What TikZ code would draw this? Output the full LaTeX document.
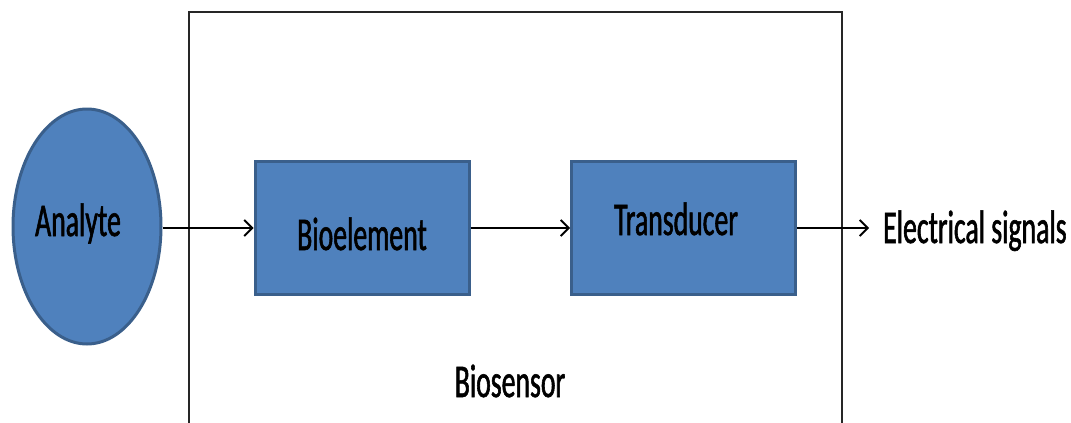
\documentclass[tikz,border=0pt]{standalone}
\usepackage{fontspec}
\setmainfont{Carlito}[FakeStretch=0.59,FakeBold=1.2]
\usepackage{tikz}
\usetikzlibrary{arrows.meta,shapes.geometric}
\definecolor{boxblue}{HTML}{4F81BD}
\definecolor{boxedge}{HTML}{3A5F8B}
\tikzset{
  blob/.style={ellipse, fill=boxblue, draw=boxedge, line width=3pt, minimum width=148pt, minimum height=235pt, inner sep=0pt},
  block/.style={rectangle, fill=boxblue, draw=boxedge, line width=3pt, minimum height=133pt, inner sep=0pt},
  flow/.style={line width=1.8pt, -{Straight Barb[length=8pt,width=16pt,line width=1.8pt]}},
  lbl/.style={font=\fontsize{47}{50}\selectfont, inner sep=0pt}
}
\begin{document}
\begin{tikzpicture}[x=1pt,y=-1pt]
\useasboundingbox (0,0) rectangle (1071,423);
% biosensor frame, open at the bottom
\draw[line width=1.8pt, color=black!85] (189,423) |- (842,12) -- (842,423);
\node[blob, lbl] (Analyte) at (87,226.5) {\raisebox{-9.5pt}[0pt][0pt]{\makebox[0pt]{\hspace*{-18pt}Analyte}}};
\node[block, lbl, minimum width=214pt] (Bio) at (362,227.5) {\raisebox{-22.5pt}[0pt][0pt]{Bioelement}};
\node[block, lbl, minimum width=224pt] (Trans) at (683.5,227.5) {\raisebox{-7.5pt}[0pt][0pt]{\makebox[0pt]{\hspace*{-15pt}Transducer}}};
\node[lbl, anchor=base west] (Signal) at (883,243) {Electrical signals};
\node[lbl, anchor=base] (Frame) at (510,397) {Biosensor};
\coordinate (Out) at (869,228);
\draw[flow] (Analyte.east |- 0,228) -- (Bio.west |- 0,228);
\draw[flow] (Bio.east |- 0,228) -- (Trans.west |- 0,228);
\draw[flow] (Trans.east |- 0,228) -- (Out);
\end{tikzpicture}
\end{document}
